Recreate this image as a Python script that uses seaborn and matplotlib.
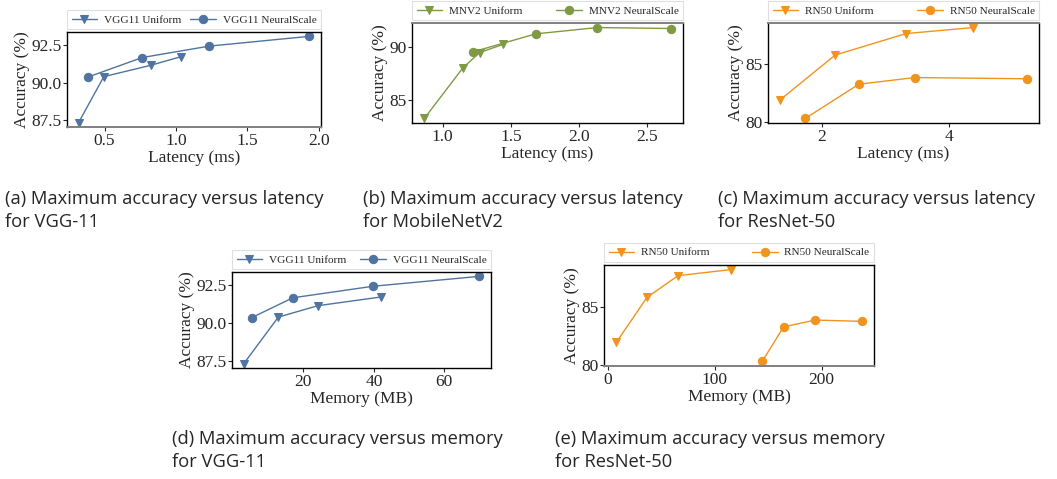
import matplotlib
matplotlib.use("Agg")
import matplotlib.pyplot as plt
import seaborn as sns

# ---------------- data ----------------
vgg_uni_lat = [0.318, 0.495, 0.822, 1.033]
vgg_uni_mem = [3.1, 12.9, 24.1, 41.9]
vgg_uni_acc = [87.34, 90.40, 91.15, 91.72]
vgg_ns_lat = [0.383, 0.764, 1.234, 1.935]
vgg_ns_mem = [5.4, 17.0, 39.8, 69.9]
vgg_ns_acc = [90.37, 91.67, 92.43, 93.08]

mnv_uni_lat = [0.865, 1.148, 1.271, 1.441]
mnv_uni_acc = [83.29, 88.01, 89.44, 90.19]
mnv_ns_lat = [1.222, 1.682, 2.133, 2.672]
mnv_ns_acc = [89.50, 91.18, 91.77, 91.68]

rn_uni_lat = [1.35, 2.21, 3.32, 4.37]
rn_uni_mem = [7.8, 36.6, 65.6, 115.0]
rn_uni_acc = [81.95, 85.80, 87.65, 88.17]
rn_ns_lat = [1.74, 2.58, 3.46, 5.21]
rn_ns_mem = [144.4, 164.4, 193.8, 237.5]
rn_ns_acc = [80.33, 83.28, 83.86, 83.75]

captions = [
    ["(a) Maximum accuracy versus latency", "for VGG-11"],
    ["(b) Maximum accuracy versus latency", "for MobileNetV2"],
    ["(c) Maximum accuracy versus latency", "for ResNet-50"],
    ["(d) Maximum accuracy versus memory", "for VGG-11"],
    ["(e) Maximum accuracy versus memory", "for ResNet-50"],
]

BLUE = "#4f74a0"
GREEN = "#7f9a45"
ORANGE = "#f0941e"

sns.set_style("white")
plt.rcParams["font.family"] = ["Liberation Serif", "DejaVu Serif"]

W, H = 1057, 479
fig = plt.figure(figsize=(W / 100, H / 100), dpi=100)


def add_ax(l, r, t, b):
    return fig.add_axes([l / W, 1 - b / H, (r - l) / W, (b - t) / H])


def panel(ax, x1, y1, lab1, x2, y2, lab2, color, xlabel, xticks, yticks, gray_spine):
    sns.lineplot(x=x1, y=y1, ax=ax, color=color, marker="v", markersize=6.3,
                 markeredgecolor=color, linewidth=1, label=lab1)
    sns.lineplot(x=x2, y=y2, ax=ax, color=color, marker="o", markersize=6,
                 markeredgecolor=color, linewidth=1, label=lab2)
    ax.set_xticks(xticks)
    ax.set_yticks(yticks)
    ax.set_xlabel(xlabel, fontsize=12.5, labelpad=1)
    ax.set_ylabel("Accuracy (%)", fontsize=12.5, labelpad=1)
    ax.tick_params(axis="both", labelsize=12.5, length=3, width=0.8,
                   direction="out", pad=1, bottom=True, left=True)
    for s in ax.spines.values():
        s.set_color("black")
        s.set_linewidth(1.0)
        s.set_visible(True)
    if gray_spine:
        ax.spines[gray_spine].set_color("#808080")
        ax.spines[gray_spine].set_linewidth(1.4)
    leg = ax.legend(loc="lower left", bbox_to_anchor=(0, 1.03, 1, 0.2),
                    mode="expand", ncol=2, fontsize=8.1, frameon=True,
                    fancybox=False, edgecolor="#d8d8d8", borderpad=0.4,
                    handlelength=2.3, handletextpad=0.6, borderaxespad=0,
                    columnspacing=0.8)
    leg.get_frame().set_linewidth(0.8)


ax_a = add_ax(67, 321, 32, 127)
panel(ax_a, vgg_uni_lat, vgg_uni_acc, "VGG11 Uniform", vgg_ns_lat, vgg_ns_acc,
      "VGG11 NeuralScale", BLUE, "Latency (ms)", [0.5, 1.0, 1.5, 2.0],
      [87.5, 90.0, 92.5], "bottom")

ax_b = add_ax(412, 683, 23, 123)
panel(ax_b, mnv_uni_lat, mnv_uni_acc, "MNV2 Uniform", mnv_ns_lat, mnv_ns_acc,
      "MNV2 NeuralScale", GREEN, "Latency (ms)", [1.0, 1.5, 2.0, 2.5],
      [85, 90], "top")

ax_c = add_ax(768, 1039, 23, 123)
panel(ax_c, rn_uni_lat, rn_uni_acc, "RN50 Uniform", rn_ns_lat, rn_ns_acc,
      "RN50 NeuralScale", ORANGE, "Latency (ms)", [2, 4], [80, 85], "top")

ax_d = add_ax(232, 491, 272, 368)
panel(ax_d, vgg_uni_mem, vgg_uni_acc, "VGG11 Uniform", vgg_ns_mem, vgg_ns_acc,
      "VGG11 NeuralScale", BLUE, "Memory (MB)", [20, 40, 60],
      [87.5, 90.0, 92.5], None)

ax_e = add_ax(604, 874, 265, 366)
panel(ax_e, rn_uni_mem, rn_uni_acc, "RN50 Uniform", rn_ns_mem, rn_ns_acc,
      "RN50 NeuralScale", ORANGE, "Memory (MB)", [0, 100, 200], [80, 85],
      "bottom")

cap_pos = [(5, 204), (363, 204), (718, 204), (172, 444), (555, 444)]
for (cx, cy), lines in zip(cap_pos, captions):
    for i, line in enumerate(lines):
        fig.text(cx / W, 1 - (cy + 23 * i) / H, line, fontsize=13.2,
                 va="baseline", ha="left", family=["Open Sans", "DejaVu Sans"])

fig.savefig("out.png", dpi=100)
